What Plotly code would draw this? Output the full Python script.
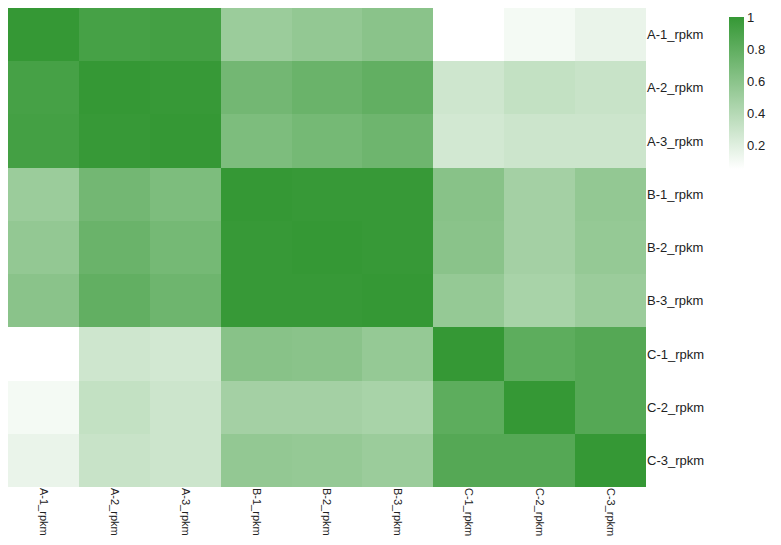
import plotly.graph_objects as go

labels = ["A-1_rpkm", "A-2_rpkm", "A-3_rpkm", "B-1_rpkm", "B-2_rpkm",
          "B-3_rpkm", "C-1_rpkm", "C-2_rpkm", "C-3_rpkm"]

row_a1 = [1.00, 0.92, 0.93, 0.52, 0.56, 0.60, 0.05, 0.10, 0.15]
row_a2 = [0.92, 1.00, 0.99, 0.71, 0.75, 0.79, 0.28, 0.33, 0.31]
row_a3 = [0.93, 0.99, 1.00, 0.66, 0.70, 0.73, 0.26, 0.29, 0.29]
row_b1 = [0.52, 0.71, 0.66, 1.00, 0.99, 0.99, 0.61, 0.48, 0.56]
row_b2 = [0.56, 0.75, 0.70, 0.99, 1.00, 0.99, 0.60, 0.48, 0.55]
row_b3 = [0.60, 0.79, 0.73, 0.99, 0.99, 1.00, 0.55, 0.46, 0.52]
row_c1 = [0.05, 0.28, 0.26, 0.61, 0.60, 0.55, 1.00, 0.81, 0.85]
row_c2 = [0.10, 0.33, 0.29, 0.48, 0.48, 0.46, 0.81, 1.00, 0.85]
row_c3 = [0.15, 0.31, 0.29, 0.56, 0.55, 0.52, 0.85, 0.85, 1.00]

z = [row_a1, row_a2, row_a3, row_b1, row_b2, row_b3, row_c1, row_c2, row_c3]

colorbar_ticks = [0.2, 0.4, 0.6, 0.8, 1.0]
colorbar_text = ["0.2", "0.4", "0.6", "0.8", "1"]

fig = go.Figure(go.Heatmap(
    z=z, x=labels, y=labels,
    colorscale=[[0, "rgb(255,255,255)"], [1, "rgb(53,152,53)"]],
    zmin=0.05, zmax=1.0,
    colorbar=dict(
        thickness=15, lenmode="pixels", len=152,
        x=1.1301, xanchor="left", xpad=0,
        y=1 - 9 / 479, yanchor="top", ypad=0,
        outlinewidth=0, tickmode="array",
        tickvals=colorbar_ticks, ticktext=colorbar_text,
        ticklabeloverflow="allow",
        ticks="", tickfont=dict(size=13, color="#222"),
    ),
))

# page body has an 8px margin, so the figure is sized to fit inside the window
fig.update_layout(
    width=773, height=529,
    margin=dict(l=0, r=135, t=0, b=50, autoexpand=False),
    paper_bgcolor="white", plot_bgcolor="white",
    font=dict(family="Liberation Sans, Arial, sans-serif", size=11, color="#222"),
    xaxis=dict(tickangle=90, showgrid=False, zeroline=False, ticks="",
               tickfont=dict(size=11)),
    yaxis=dict(side="right", autorange="reversed", showgrid=False, zeroline=False,
               ticks="", tickfont=dict(size=13)),
)

fig.write_html("out.html")
